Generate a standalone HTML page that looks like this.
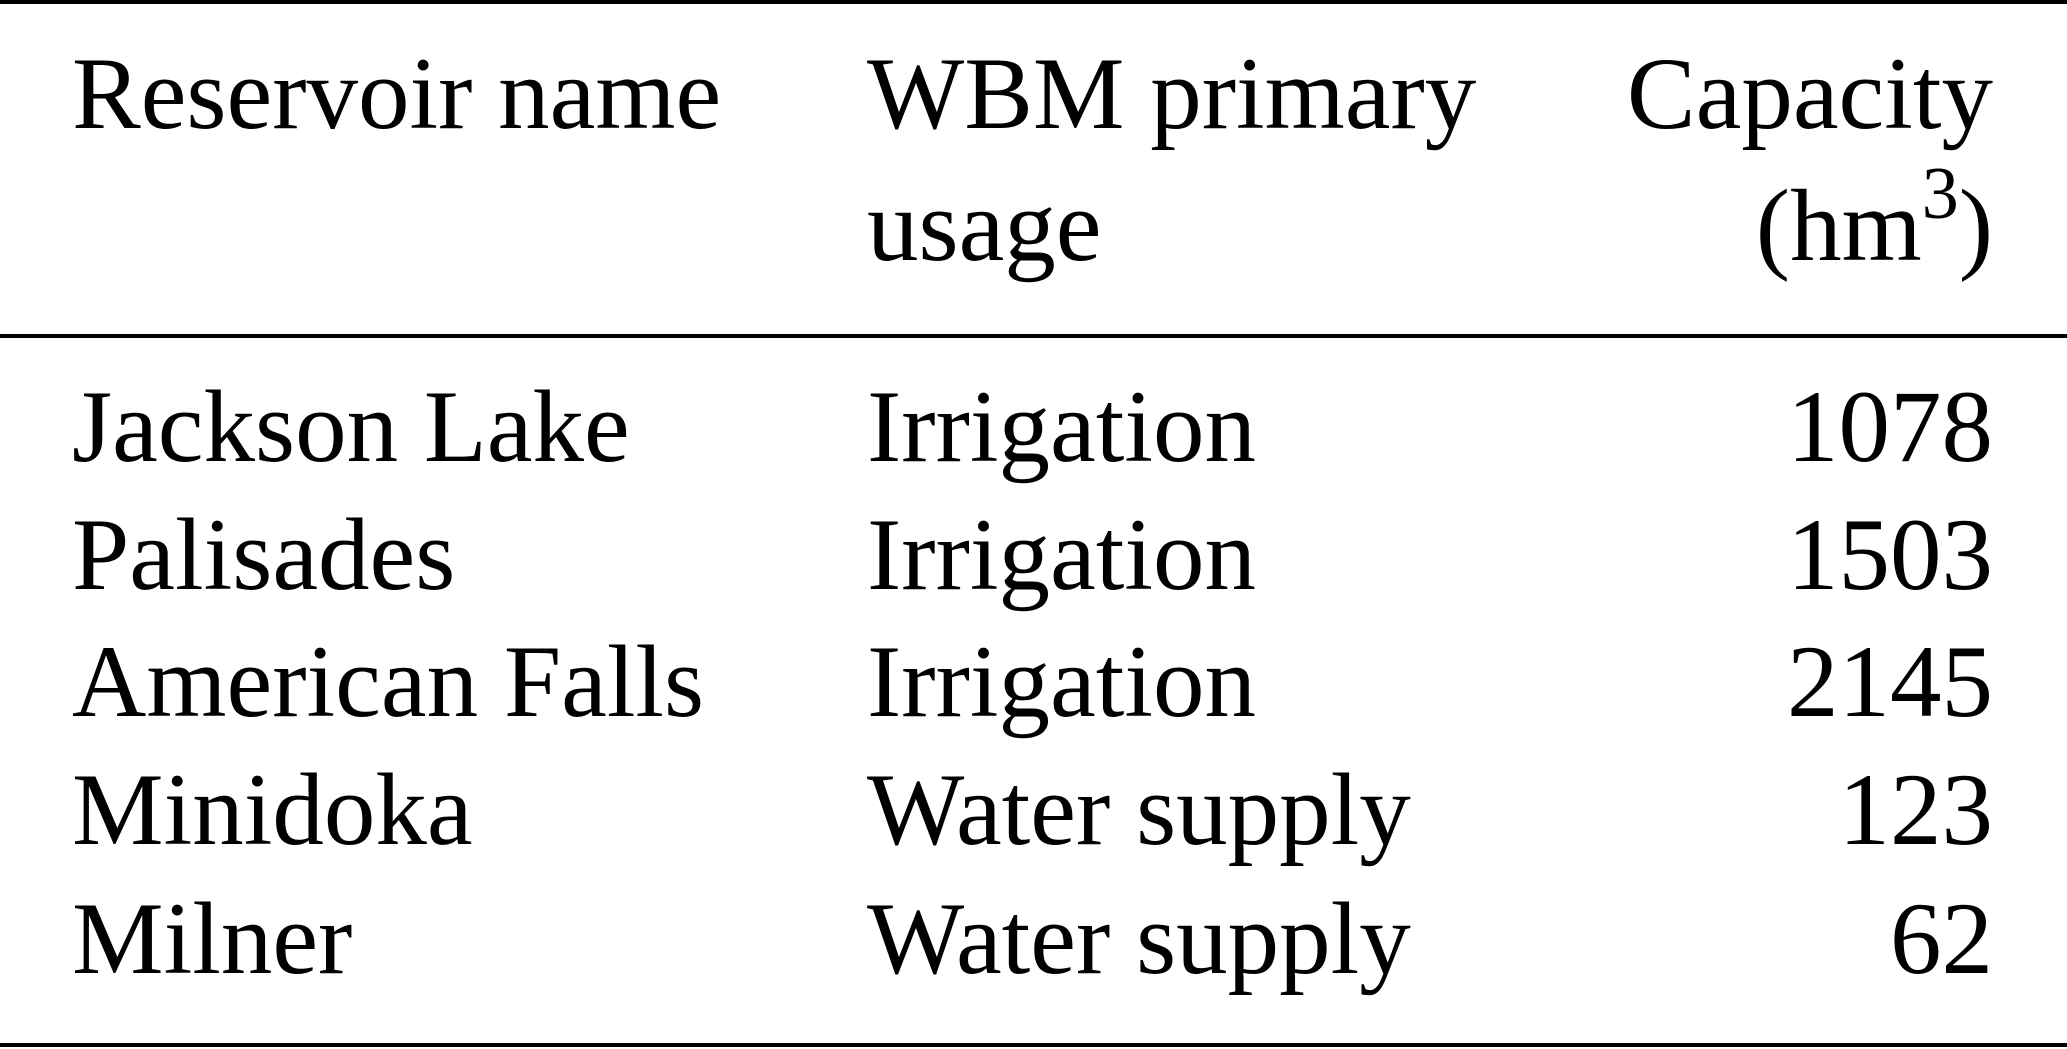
<!DOCTYPE html>
<html><head><meta charset="utf-8"><style>html,body{margin:0;padding:0;background:#fff;}svg{display:block}</style></head>
<body>
<svg width="2067" height="1049" viewBox="0 0 2067 1049" xmlns="http://www.w3.org/2000/svg" font-family="'Liberation Serif', serif" font-size="103" fill="#000">
<rect x="0" y="0" width="2067" height="4"/>
<rect x="0" y="334" width="2067" height="4"/>
<rect x="0" y="1043" width="2067" height="4"/>
<text x="72" y="128">Reservoir name</text>
<text x="867" y="128">WBM primary</text>
<text x="867" y="260">usage</text>
<text x="1993" y="128" text-anchor="end">Capacity</text>
<text x="1993" y="260" text-anchor="end">(hm<tspan font-size="74" dy="-42">3</tspan><tspan dy="42">)</tspan></text>
<text x="72" y="461">Jackson Lake</text><text x="867" y="461">Irrigation</text><text x="1993" y="461" text-anchor="end">1078</text>
<text x="72" y="589">Palisades</text><text x="867" y="589">Irrigation</text><text x="1993" y="589" text-anchor="end">1503</text>
<text x="72" y="716">American Falls</text><text x="867" y="716">Irrigation</text><text x="1993" y="716" text-anchor="end">2145</text>
<text x="72" y="844">Minidoka</text><text x="867" y="844">Water supply</text><text x="1993" y="844" text-anchor="end">123</text>
<text x="72" y="973">Milner</text><text x="867" y="973">Water supply</text><text x="1993" y="973" text-anchor="end">62</text>
</svg>
</body></html>
